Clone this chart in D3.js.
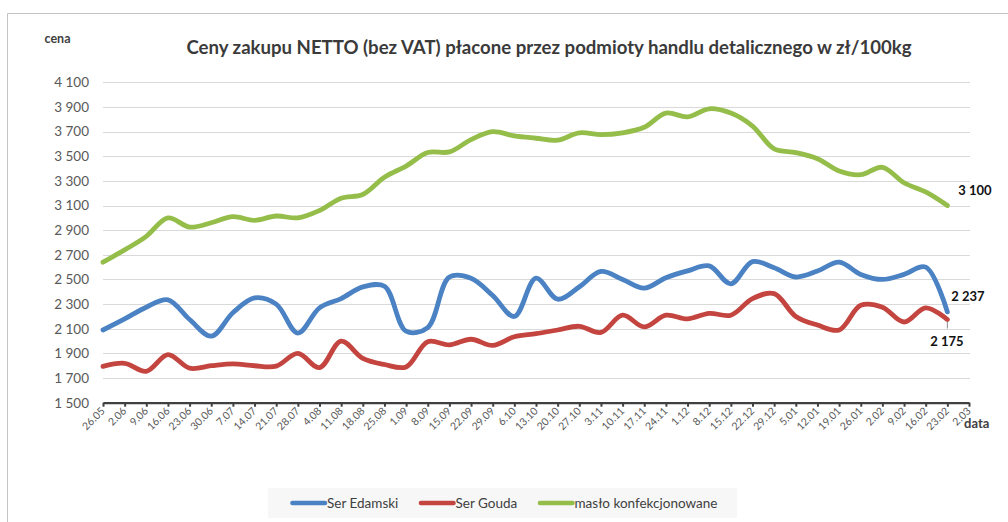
<!DOCTYPE html>
<html>
<head>
<meta charset="utf-8">
<script src="https://cdn.jsdelivr.net/npm/d3@7"></script>
<style>
  html, body { margin: 0; padding: 0; background: #fff; }
  svg { display: block; font-family: Lato, "Open Sans", sans-serif; }
</style>
</head>
<body>
<svg id="chart" width="1008" height="522"></svg>
<script>
const categories = ["26.05","2.06","9.06","16.06","23.06","30.06","7.07","14.07","21.07","28.07","4.08","11.08","18.08","25.08","1.09","8.09","15.09","22.09","29.09","6.10","13.10","20.10","27.10","3.11","10.11","17.11","24.11","1.12","8.12","15.12","22.12","29.12","5.01","12.01","19.01","26.01","2.02","9.02","16.02","23.02","2.03"];

const serEdamski = [2090,2180,2275,2335,2175,2040,2230,2350,2300,2065,2270,2345,2440,2445,2080,2110,2520,2510,2370,2200,2510,2340,2440,2565,2500,2430,2514,2570,2610,2465,2645,2595,2520,2568,2640,2541,2500,2541,2600,2237];
const serGouda = [1795,1820,1755,1890,1780,1800,1815,1800,1797,1900,1785,2000,1860,1810,1790,1995,1970,2015,1965,2035,2060,2090,2120,2070,2210,2115,2210,2180,2225,2210,2345,2385,2200,2130,2090,2290,2275,2155,2270,2175];
const maslo = [2640,2740,2850,3000,2925,2960,3010,2980,3015,3000,3060,3160,3190,3330,3420,3530,3535,3635,3700,3665,3646,3630,3690,3675,3690,3735,3850,3820,3885,3850,3745,3560,3530,3480,3380,3350,3410,3285,3210,3100];

const yTicks = [1500,1700,1900,2100,2300,2500,2700,2900,3100,3300,3500,3700,3900,4100];

const seriesNames = ["Ser Edamski","Ser Gouda","masło konfekcjonowane"];
const seriesColors = ["#4a82c3","#c4453f","#94bd4a"];
const seriesData = [serEdamski, serGouda, maslo];

const titleText = "Ceny zakupu NETTO (bez VAT) płacone przez podmioty  handlu detalicznego w zł/100kg";

const svg = d3.select("#chart");
const fmt = d3.formatLocale({decimal: ",", thousands: "\u00a0", grouping: [3], currency: ["", ""]}).format(",d");

// outer border
svg.append("path").attr("d", "M7.5,522 L7.5,13.5 L1008,13.5")
  .attr("fill", "none").attr("stroke", "#c4c4c4").attr("stroke-width", 1);

const x = d3.scalePoint().domain(categories).range([103, 969]);
const y = d3.scaleLinear().domain([1500, 4100]).range([402.7, 82.3]);

// gridlines
svg.append("g").selectAll("line").data(yTicks.filter(d => d > 1500)).join("line")
  .attr("x1", 103).attr("x2", 970)
  .attr("y1", d => Math.round(y(d)) + 0.5).attr("y2", d => Math.round(y(d)) + 0.5)
  .attr("stroke", "#d9d9d9").attr("stroke-width", 1);

// y axis labels
const yAxis = d3.axisLeft(y).tickValues(yTicks).tickFormat(fmt).tickSize(0).tickPadding(14);
const gy = svg.append("g").attr("transform", "translate(103,0)").call(yAxis);
gy.select(".domain").remove();
gy.selectAll("text").attr("fill", "#595959").style("font-size", "13.5px").style("font-family", "Lato, sans-serif");

// x axis
const xAxis = d3.axisBottom(x).tickSize(4).tickSizeOuter(0);
const gx = svg.append("g").attr("transform", "translate(0,402.7)").call(xAxis);
gx.select(".domain").attr("stroke", "#404040").attr("stroke-width", 2.2);
gx.selectAll(".tick line").attr("stroke", "#404040").attr("stroke-width", 2);
gx.selectAll("text")
  .attr("fill", "#595959")
  .style("font-size", "10.5px").style("font-family", "Lato, sans-serif")
  .attr("text-anchor", "end")
  .attr("dy", null).attr("y", 0)
  .attr("transform", "translate(2,9) rotate(-45)");

// lines
const line = d3.line()
  .x((d, i) => x(categories[i]))
  .y(d => y(d))
  .curve(d3.curveCatmullRom.alpha(0.5));

svg.append("g").selectAll("path").data(seriesData).join("path")
  .attr("d", d => line(d))
  .attr("fill", "none")
  .attr("stroke", (d, i) => seriesColors[i])
  .attr("stroke-width", 4.8)
  .attr("stroke-linecap", "round")
  .attr("stroke-linejoin", "round");

// end labels
const last = categories[serEdamski.length - 1];
const lx = x(last);
svg.append("line").attr("x1", lx).attr("x2", lx).attr("y1", y(2175) + 2).attr("y2", y(2175) + 9)
  .attr("stroke", "#8c8c8c").attr("stroke-width", 1);
const endLabels = [
  {v: maslo[maslo.length - 1], dx: 11, yy: 190},
  {v: serEdamski[serEdamski.length - 1], dx: 4, yy: 296.7},
  {v: serGouda[serGouda.length - 1], dx: -17, yy: 341.7}
];
svg.append("g").selectAll("text").data(endLabels).join("text")
  .attr("x", d => lx + d.dx)
  .attr("y", d => d.yy)
  .attr("dy", "0.35em")
  .attr("fill", "#111")
  .style("font-size", "13px").style("font-weight", "bold")
  .text(d => fmt(d.v));

// title
svg.append("text").attr("x", 549).attr("y", 47).attr("dy", "0.35em")
  .attr("text-anchor", "middle").attr("fill", "#3a3a3a")
  .style("font-size", "18.6px").style("font-weight", "bold")
  .text(titleText);

// axis titles
svg.append("text").attr("x", 44.5).attr("y", 39).attr("dy", "0.35em")
  .attr("fill", "#404040").style("font-size", "12.5px").style("font-weight", "bold").text("cena");
svg.append("text").attr("x", 964).attr("y", 423).attr("dy", "0.35em")
  .attr("fill", "#404040").style("font-size", "13px").style("font-weight", "bold").text("data");

// legend
const lg = svg.append("g");
lg.append("rect").attr("x", 268).attr("y", 488).attr("width", 469).attr("height", 30).attr("fill", "#f7f7f7");
const legendPos = [291, 419.5, 538.5];
seriesNames.forEach((n, i) => {
  lg.append("line").attr("x1", legendPos[i] + 1.5).attr("x2", legendPos[i] + 34)
    .attr("y1", 503).attr("y2", 503)
    .attr("stroke", seriesColors[i]).attr("stroke-width", 4.6).attr("stroke-linecap", "round");
  lg.append("text").attr("x", legendPos[i] + 36).attr("y", 503).attr("dy", "0.35em")
    .attr("fill", "#404040").style("font-size", "13.5px").text(n);
});
</script>
</body>
</html>
